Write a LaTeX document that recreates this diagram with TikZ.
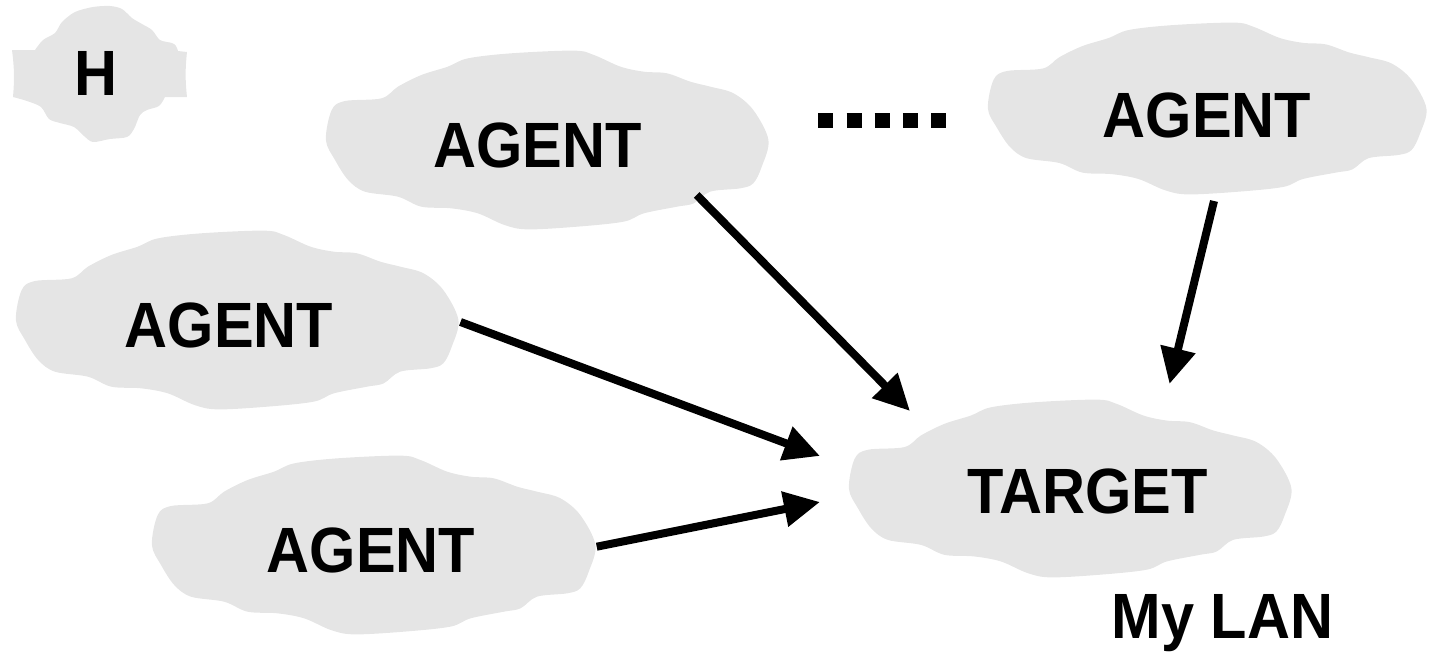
\documentclass[tikz,border=0pt]{standalone}
\usepackage{fontspec}
\setmainfont{Liberation Sans}
\newfontfamily\lblfont[FakeStretch=0.93]{Liberation Sans}
\usetikzlibrary{arrows.meta,calc}
\definecolor{puffgray}{RGB}{229,229,229}
\tikzset{
  % generic cloud outline, unit half-width and half-height (y grows downward)
  puff/.pic={
    \fill[puffgray] plot[smooth cycle,tension=0.55] coordinates {
      (-0.996,0) (-0.970,-0.333) (-0.910,-0.433) (-0.746,-0.463)
      (-0.672,-0.593) (-0.567,-0.722) (-0.448,-0.815) (-0.358,-0.907)
      (-0.164,-0.963) (0.119,-0.993) (0.209,-0.944) (0.328,-0.815)
      (0.433,-0.759) (0.537,-0.741) (0.642,-0.648) (0.731,-0.593)
      (0.836,-0.519) (0.925,-0.333) (0.993,0) (0.963,0.296)
      (0.925,0.481) (0.866,0.537) (0.731,0.574) (0.657,0.704)
      (0.582,0.741) (0.433,0.815) (0.343,0.907) (0.134,0.963)
      (-0.090,0.993) (-0.194,0.944) (-0.313,0.815) (-0.433,0.759)
      (-0.567,0.741) (-0.672,0.630) (-0.821,0.574) (-0.896,0.444)
      (-0.955,0.222)};
  },
  word/.style={font={\lblfont\bfseries\fontsize{48}{48}\selectfont},
    inner sep=0pt, text=black},
  link/.style={line width=6pt, -{Triangle[length=27pt,width=25.5pt]}},
  ellipsis/.style={line width=11.25pt, dash pattern=on 11.25pt off 9.9pt},
}
\begin{document}
\begin{tikzpicture}[x=0.75pt,y=-0.75pt]
\useasboundingbox (0,0) rectangle (1436,653);

% small cloud with flat, slightly hollow left and right sides
\fill[puffgray] (12,50) -- (35,50)
  -- plot[smooth,tension=0.5] coordinates {(35,50) (43,40) (55,33) (62,22)
     (75,12) (93,7) (110,6) (122,9) (132,18) (142,24) (152,30) (160,40)
     (172,43) (176,46) (178,51)}
  -- (187,52) to[bend right=6] (187,97) -- (165,97)
  -- plot[smooth,tension=0.5] coordinates {(165,97) (159,106) (147,110)
     (140,115) (134,129) (127,137) (110,139) (93,142) (84,136) (74,127)
     (60,123) (49,119) (41,107) (27,101) (13,97)}
  to[bend right=6] cycle;

% clouds
\pic[xscale=222.5,yscale=90]   at (547.5,140)   {puff};
\pic[xscale=220.5,yscale=86.5] at (1207.5,108.5) {puff};
\pic[xscale=222.5,yscale=90]   at (237.5,320)   {puff};
\pic[xscale=223,yscale=90]     at (374,545)     {puff};
\pic[xscale=222.5,yscale=89.5] at (1070.5,488.5) {puff};

% labels
\node[word] (h)   at (96,73.5)    {H};
\node[word] (ag1) at (537.5,145)  {AGENT};
\node[word] (ag4) at (1207,115.3) {AGENT};
\node[word] (ag2) at (229,325)    {AGENT};
\node[word] (ag3) at (371,550.5)  {AGENT};
\node[word] (tgt) at (1087.5,491.5) {TARGET};
\node[word,anchor=base] (lan) at (1222.5,638) {My LAN};

% row of square dots
\coordinate (dotsL) at (818.3,120.2);
\coordinate (dotsR) at (946,120.2);
\draw[ellipsis] (dotsL) -- (dotsR);

% connectors
\draw[link] ($(ag2)+(231.5,-3)$)  -- ($(tgt)+(-267.5,-35.5)$);
\draw[link] ($(ag3)+(225.7,-3.8)$) -- ($(tgt)+(-267.5,10.5)$);
\draw[link] ($(ag1)+(159.2,50)$)  -- ($(tgt)+(-177.5,-80.5)$);
\draw[link] ($(ag4)+(7,85.7)$)    -- ($(tgt)+(82,-107.5)$);
\end{tikzpicture}
\end{document}
